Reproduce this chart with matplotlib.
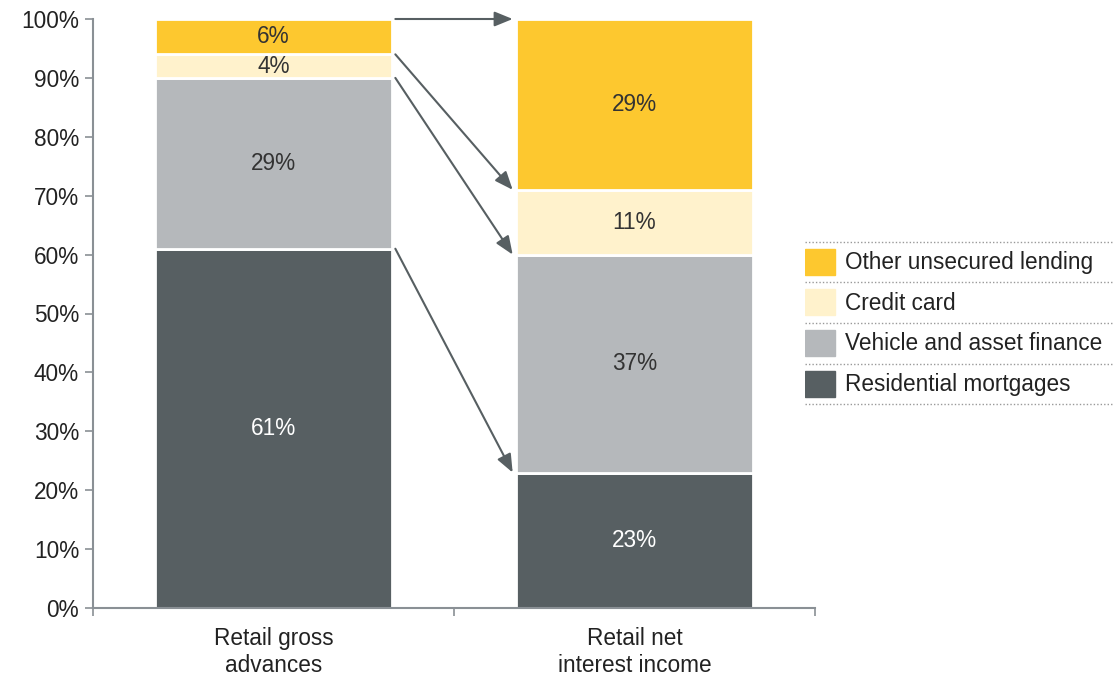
import numpy as np
import matplotlib.pyplot as plt
from matplotlib.patches import Rectangle

plt.rcParams['font.family'] = ['Liberation Sans', 'DejaVu Sans']

# 数据
categories = ['Retail gross\nadvances', 'Retail net\ninterest income']
series = ['Residential mortgages', 'Vehicle and asset finance', 'Credit card', 'Other unsecured lending']
values = {
    'Residential mortgages': [61, 23],
    'Vehicle and asset finance': [29, 37],
    'Credit card': [4, 11],
    'Other unsecured lending': [6, 29],
}
colors = ['#575f62', '#b5b8bb', '#fff2cc', '#fdc82f']
text_colors = ['white', '#333333', '#333333', '#333333']

axis_grey = '#8a9095'
arrow_grey = '#575f62'
bar_w = 0.655
fs = 16.3

fig = plt.figure(figsize=(11.15, 6.79), dpi=100)
ax = fig.add_axes([93 / 1115, 1 - 608 / 679, 722 / 1115, 589 / 679])

x = np.arange(len(categories))
bottom = np.zeros(len(categories))
tops = []
for name, c, tc in zip(series, colors, text_colors):
    v = np.array(values[name])
    ax.bar(x, v, bar_w, bottom=bottom, color=c, edgecolor='white', linewidth=2, zorder=2)
    for xi, vi, bi in zip(x, v, bottom):
        ax.text(xi, bi + vi / 2, f'{vi}%', ha='center', va='center', fontsize=fs, color=tc)
    bottom = bottom + v
    tops.append(bottom.copy())

# 箭头：左柱各段顶部 -> 右柱对应段顶部
x0 = x[0] + bar_w / 2 + 0.01
x1 = x[1] - bar_w / 2 - 0.01
for t in tops:
    ax.annotate('', xy=(x1, t[1]), xytext=(x0, t[0]),
                arrowprops=dict(arrowstyle='-|>,head_length=1.1,head_width=0.45',
                                color=arrow_grey, lw=1.5, shrinkA=0, shrinkB=0),
                annotation_clip=False, zorder=3)

ax.set_xlim(-0.5, 1.5)
ax.set_ylim(0, 100)
ax.set_yticks(range(0, 101, 10))
ax.set_yticklabels([f'{v}%' for v in range(0, 101, 10)], fontsize=fs, color='#222222')
ax.set_xticks([-0.5, 0.5, 1.5])
ax.set_xticklabels([])
ax.set_xticks(x, minor=True)
ax.set_xticklabels(categories, minor=True, fontsize=fs, color='#222222', linespacing=1.2)
ax.tick_params(axis='x', which='minor', length=0, pad=14)
ax.tick_params(axis='x', which='major', length=6, color=axis_grey, width=1.2)
ax.tick_params(axis='y', length=6, color=axis_grey, width=1.2, pad=4)
for s in ['top', 'right']:
    ax.spines[s].set_visible(False)
for s in ['left', 'bottom']:
    ax.spines[s].set_color(axis_grey)
    ax.spines[s].set_linewidth(1.5)

# 图例（带虚线分隔）
lax = fig.add_axes([805 / 1115, 1 - 404 / 679, 310 / 1115, 162 / 679])
lax.set_xlim(0, 310)
lax.set_ylim(162, 0)
lax.axis('off')
row_h = 40.5
for i, (name, c) in enumerate(zip(series[::-1], colors[::-1])):
    y0 = i * row_h
    lax.plot([0, 308], [y0, y0], ls=(0, (1, 1.5)), color='#999999', lw=1, clip_on=False)
    lax.add_patch(Rectangle((0, y0 + 7), 30, 26, color=c))
    lax.text(40, y0 + 21, name, va='center', ha='left', fontsize=fs, color='#222222')
lax.plot([0, 308], [4 * row_h, 4 * row_h], ls=(0, (1, 1.5)), color='#999999', lw=1, clip_on=False)

fig.savefig('out.png', dpi=100)
